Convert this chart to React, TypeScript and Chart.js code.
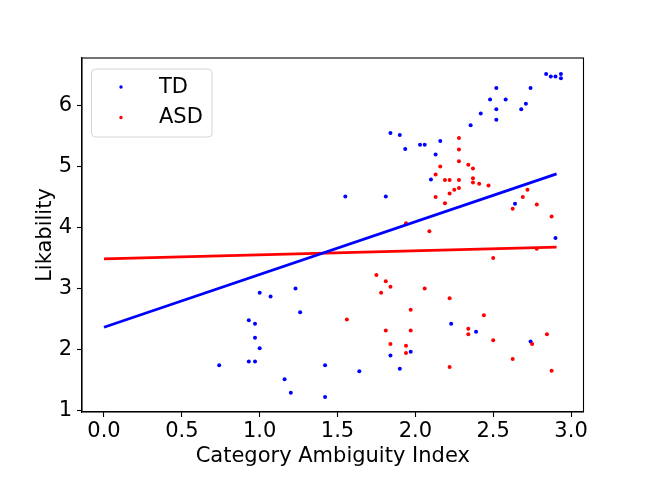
import { useEffect, useRef } from 'react';
import { Chart, registerables, Plugin } from 'chart.js';

Chart.register(...registerables);

// TD (typically developing) scatter
const tdX = [
  1.0, 1.07, 1.23, 1.26, 0.93, 0.97, 0.97, 1.0, 0.93, 0.97, 0.74, 1.42, 1.64, 1.16, 1.2, 1.42,
  2.23, 2.39, 2.74, 1.97, 1.84, 1.9, 2.84, 2.87, 2.9, 2.935, 2.935, 2.52, 2.74, 2.48, 2.58, 2.52,
  2.68, 2.71, 2.52, 2.42, 2.355, 1.84, 1.9, 2.16, 2.03, 2.06, 1.935, 2.13, 2.1, 1.55, 1.81, 2.64, 2.9,
];
const tdY = [
  2.93, 2.87, 3.0, 2.61, 2.48, 2.42, 2.19, 2.02, 1.8, 1.8, 1.74, 1.74, 1.64, 1.51, 1.29, 1.22,
  2.42, 2.29, 2.13, 1.96, 1.9, 1.68, 6.52, 6.48, 6.48, 6.52, 6.45, 6.29, 6.29, 6.1, 6.1, 5.94,
  5.94, 6.03, 5.77, 5.87, 5.68, 5.55, 5.52, 5.42, 5.36, 5.36, 5.29, 5.2, 4.79, 4.51, 4.51, 4.39, 3.83,
];

// ASD scatter
const asdX = [
  1.56, 1.75, 1.81, 1.84, 1.78, 2.06, 2.22, 1.97, 2.44, 1.81, 1.97, 2.34, 2.34, 2.5, 2.845, 2.75,
  1.84, 1.94, 1.94, 2.22, 2.625, 2.875, 2.28, 2.28, 2.28, 2.16, 2.34, 2.37, 2.13, 2.19, 2.22, 2.28,
  2.37, 2.37, 2.41, 2.47, 2.28, 2.25, 2.22, 2.13, 2.19, 2.72, 2.69, 2.625, 2.78, 2.875, 1.94, 2.09,
  2.78, 2.5,
];
const asdY = [
  2.49, 3.22, 3.12, 3.03, 2.93, 3.0, 2.84, 2.65, 2.56, 2.31, 2.31, 2.34, 2.25, 2.15, 2.25, 2.09,
  2.09, 2.06, 1.94, 1.71, 1.84, 1.65, 5.47, 5.28, 5.09, 5.0, 5.03, 4.97, 4.87, 4.78, 4.78, 4.78,
  4.81, 4.74, 4.72, 4.69, 4.65, 4.62, 4.56, 4.5, 4.4, 4.62, 4.5, 4.31, 4.38, 4.18, 4.07, 3.94,
  3.65, 3.5,
];

// fitted regression lines
const fitX = [0, 2.907];
const tdFitY = [2.363, 4.88];
const asdFitY = [3.485, 3.677];

const xTicks = [0, 0.5, 1.0, 1.5, 2.0, 2.5, 3.0];
const yTicks = [1, 2, 3, 4, 5, 6];

const FONT = 'DejaVu Sans';
const FS = 21;

const toPoints = (xs: number[], ys: number[]) => xs.map((x, i) => ({ x, y: ys[i] }));

// top/right spines of the axes box
const framePlugin: Plugin = {
  id: 'frame',
  beforeDatasetsDraw(chart) {
    const { ctx, chartArea: a } = chart;
    ctx.save();
    ctx.strokeStyle = '#000';
    ctx.lineWidth = 1.1;
    ctx.strokeRect(a.left, a.top, a.right - a.left, a.bottom - a.top);
    ctx.restore();
  },
};

// matplotlib-like legend inside the axes
const legendPlugin: Plugin = {
  id: 'innerLegend',
  afterDraw(chart) {
    const { ctx } = chart;
    const x = 91.5, y = 69, w = 120.5, h = 68, r = 4;
    ctx.save();
    ctx.beginPath();
    ctx.roundRect(x, y, w, h, r);
    ctx.fillStyle = 'rgba(255,255,255,0.8)';
    ctx.fill();
    ctx.strokeStyle = '#d6d6d6';
    ctx.lineWidth = 1;
    ctx.stroke();
    const items = [
      { label: 'TD', color: '#0000ff', cy: 87 },
      { label: 'ASD', color: '#ff0000', cy: 117.5 },
    ];
    ctx.font = `${FS}px "${FONT}"`;
    ctx.textBaseline = 'middle';
    ctx.textAlign = 'left';
    for (const it of items) {
      ctx.beginPath();
      ctx.arc(121, it.cy, 1.7, 0, Math.PI * 2);
      ctx.fillStyle = it.color;
      ctx.fill();
      ctx.fillStyle = '#000';
      ctx.fillText(it.label, 159, it.cy + 0.5);
    }
    ctx.restore();
  },
};

export default function App() {
  const canvasRef = useRef<HTMLCanvasElement>(null);

  useEffect(() => {
    if (!canvasRef.current) return;
    Chart.defaults.color = '#000';
    Chart.defaults.font.family = FONT;

    const chart = new Chart(canvasRef.current, {
      type: 'scatter',
      data: {
        datasets: [
          {
            label: 'TD',
            data: toPoints(tdX, tdY),
            backgroundColor: '#0000ff',
            borderWidth: 0,
            pointRadius: 2,
            order: 4,
          },
          {
            label: 'ASD',
            data: toPoints(asdX, asdY),
            backgroundColor: '#ff0000',
            borderWidth: 0,
            pointRadius: 2,
            order: 3,
          },
          {
            label: 'ASD fit',
            data: toPoints(fitX, asdFitY),
            showLine: true,
            borderColor: '#ff0000',
            borderWidth: 2.8,
            pointRadius: 0,
            order: 2,
          },
          {
            label: 'TD fit',
            data: toPoints(fitX, tdFitY),
            showLine: true,
            borderColor: '#0000ff',
            borderWidth: 2.8,
            pointRadius: 0,
            order: 1,
          },
        ],
      },
      options: {
        responsive: false,
        animation: false,
        layout: { padding: { left: 0, right: 65.5, top: 58, bottom: 0 } },
        plugins: { legend: { display: false }, tooltip: { enabled: false } },
        scales: {
          x: {
            type: 'linear',
            min: -0.1413,
            max: 3.08,
            afterFit: (axis) => {
              axis.height = 74;
            },
            afterBuildTicks: (axis) => {
              axis.ticks = xTicks.map((value) => ({ value }));
            },
            ticks: {
              font: { size: FS },
              padding: 2.4,
              maxRotation: 0,
              callback: (v) => Number(v).toFixed(1),
            },
            grid: { drawOnChartArea: false, tickLength: 5, tickColor: '#000', tickWidth: 1.1 },
            border: { display: true, color: '#000', width: 1.1 },
            title: {
              display: true,
              text: 'Category Ambiguity Index',
              font: { size: FS },
              padding: { top: 0, bottom: 16.4 },
            },
          },
          y: {
            type: 'linear',
            min: 0.972,
            max: 6.783,
            afterFit: (axis) => {
              axis.width = 82;
            },
            afterBuildTicks: (axis) => {
              axis.ticks = yTicks.map((value) => ({ value }));
            },
            ticks: {
              font: { size: FS },
              padding: 5,
              callback: (v) => String(v),
            },
            grid: { drawOnChartArea: false, tickLength: 5, tickColor: '#000', tickWidth: 1.1 },
            border: { display: true, color: '#000', width: 1.1 },
            title: {
              display: true,
              text: 'Likability',
              font: { size: FS },
              padding: { top: 33.1, bottom: 0 },
            },
          },
        },
      },
      plugins: [framePlugin, legendPlugin],
    });

    return () => {
      chart.destroy();
    };
  }, []);

  return (
    <div style={{ position: 'fixed', left: 0, top: 0, width: 649, height: 486, background: '#fff' }}>
      <canvas ref={canvasRef} width={649} height={486} />
    </div>
  );
}
